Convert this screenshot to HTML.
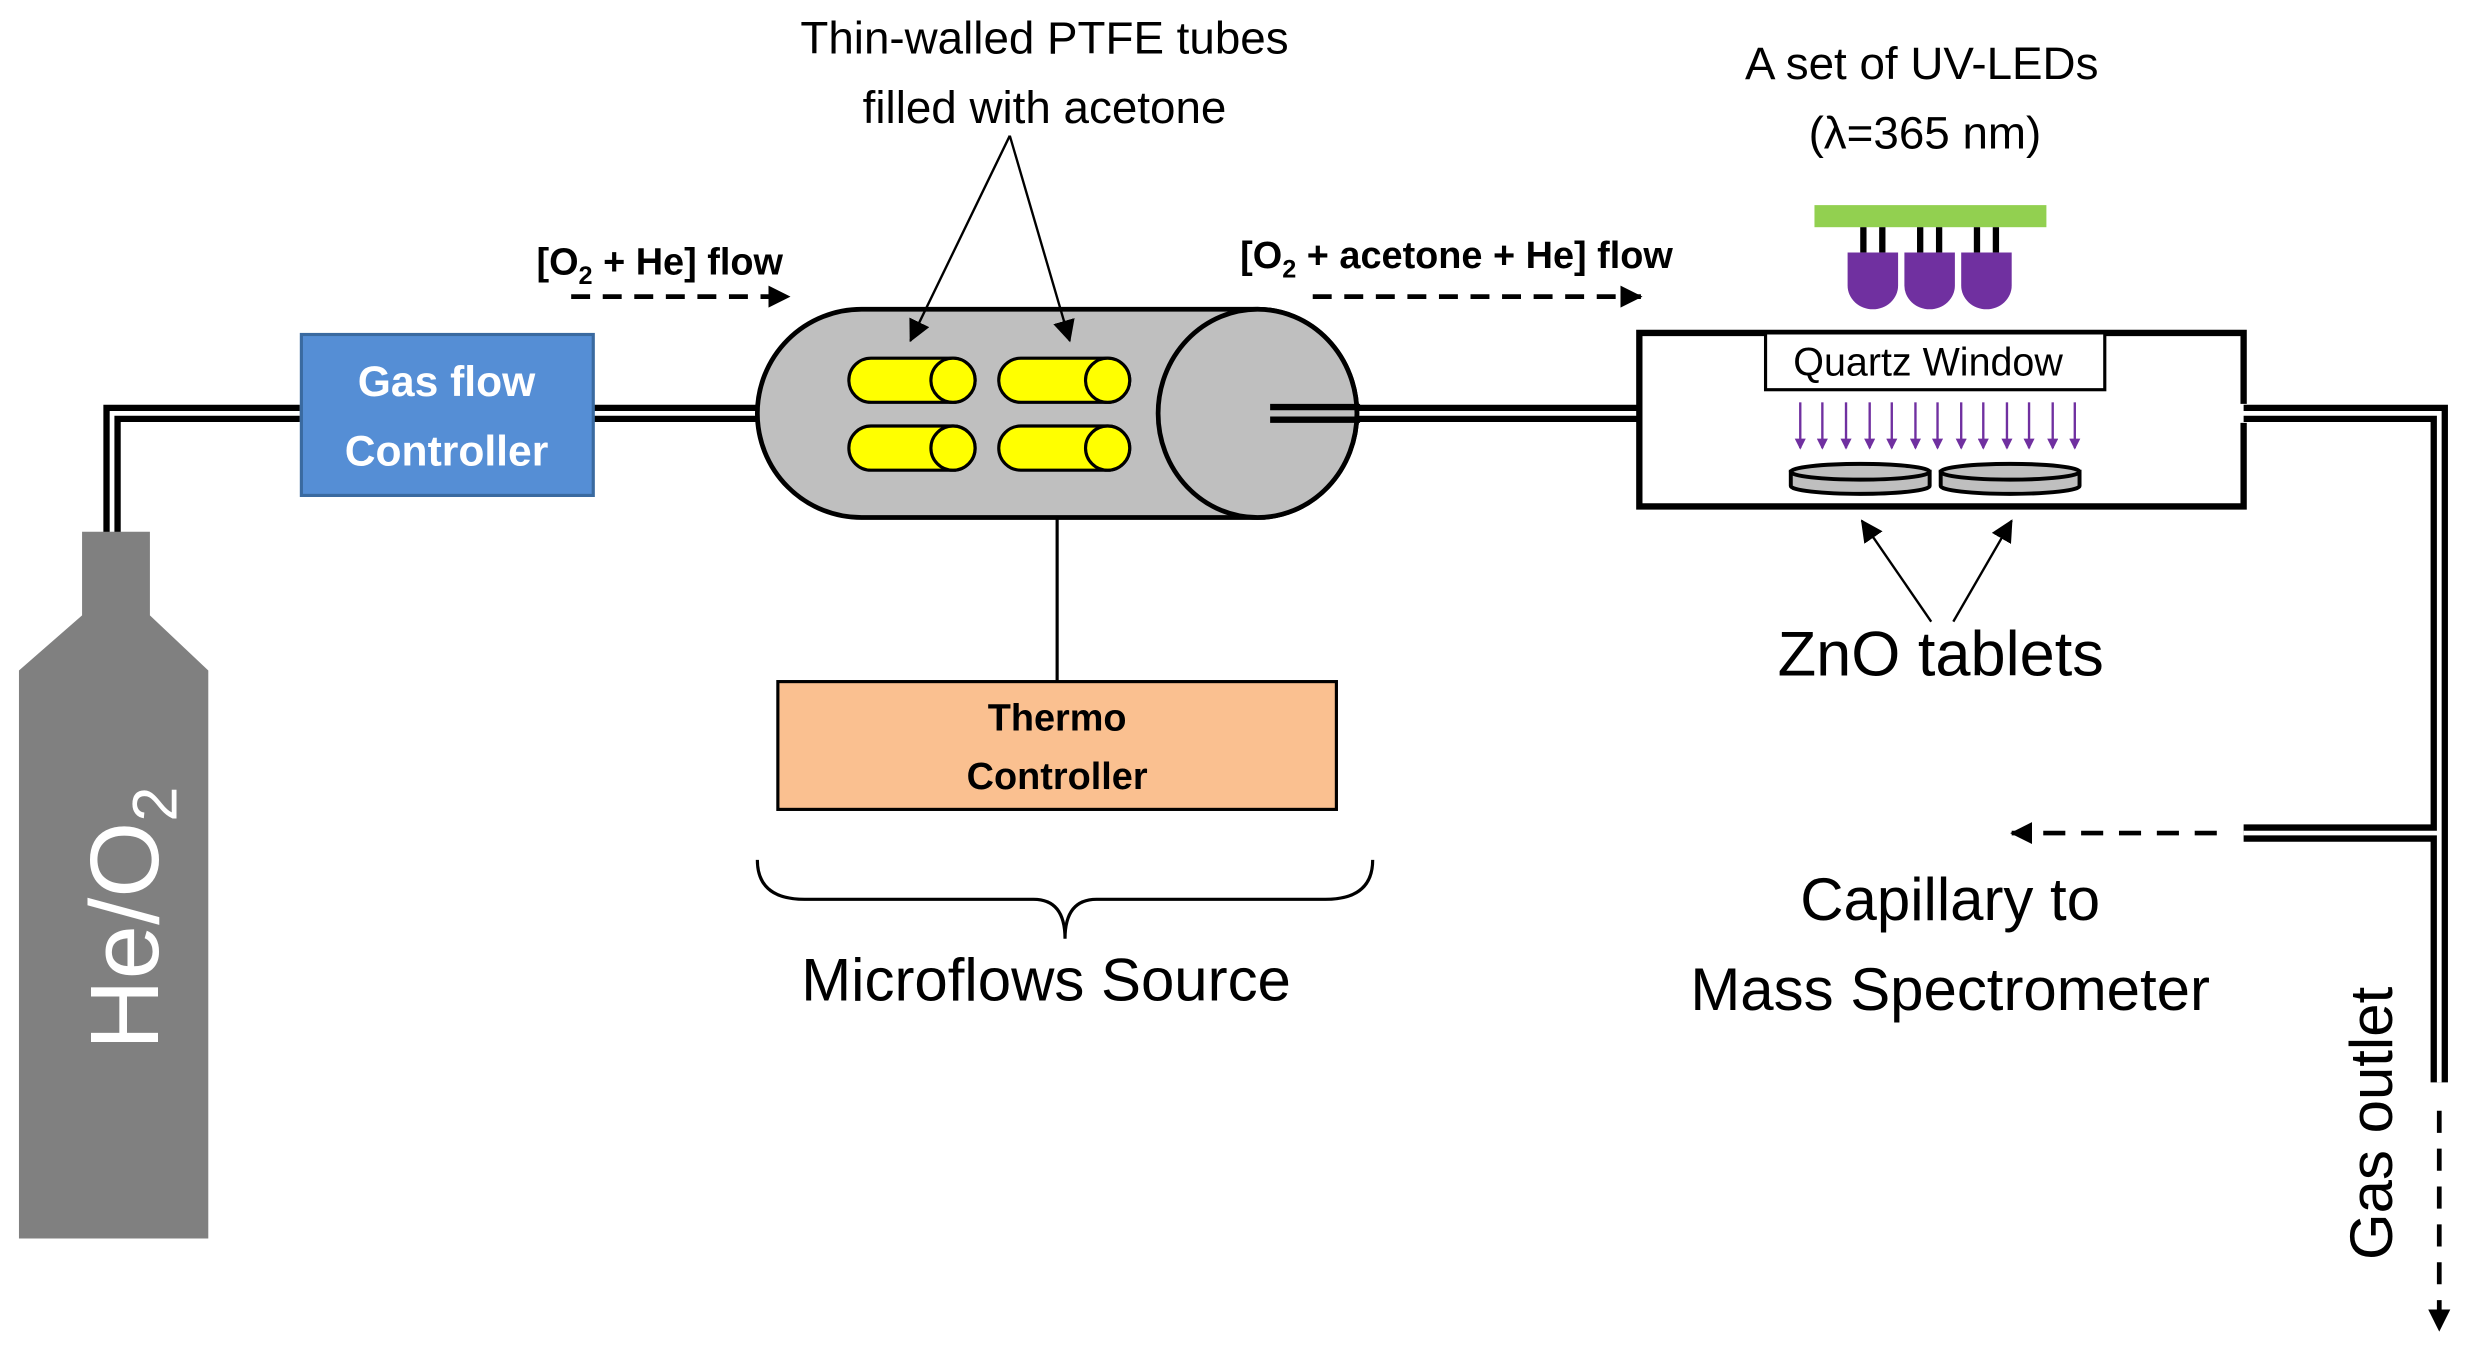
<!DOCTYPE html>
<html><head><meta charset="utf-8"><style>
html,body{margin:0;padding:0;background:#fff;}
svg{display:block;}
text{font-family:"Liberation Sans",sans-serif;}
</style></head><body>
<svg width="2474" height="1349" viewBox="0 0 1568 855" xmlns="http://www.w3.org/2000/svg">
<defs>
<marker id="ah" markerWidth="8" markerHeight="8" refX="7" refY="4" orient="auto" markerUnits="userSpaceOnUse"><path d="M0,0 L8,4 L0,8 z" fill="#000"/></marker>
<marker id="ahb" markerWidth="14" markerHeight="14" refX="13" refY="7" orient="auto" markerUnits="userSpaceOnUse"><path d="M0,0 L14,7 L0,14 z" fill="#000"/></marker>
<marker id="ahp" markerWidth="7" markerHeight="7" refX="6" refY="3.5" orient="auto" markerUnits="userSpaceOnUse"><path d="M0,0 L7,3.5 L0,7 z" fill="#7030a0"/></marker>
</defs>
<rect width="1568" height="855" fill="#fff"/>
<g fill="none" stroke-linejoin="miter">
<path d="M71,340 V262 H190" stroke="#000" stroke-width="11"/>
<path d="M71,340 V262 H190" stroke="#fff" stroke-width="3"/>
<path d="M376,262 H482" stroke="#000" stroke-width="11"/>
<path d="M376,262 H482" stroke="#fff" stroke-width="3"/>
<path d="M805,262 H1040" stroke="#000" stroke-width="11"/>
<path d="M805,262 H1040" stroke="#fff" stroke-width="3"/>
<path d="M1420,262 H1546 V686" stroke="#000" stroke-width="11"/>
<path d="M1422,528 H1546" stroke="#000" stroke-width="11"/>
<path d="M1420,262 H1546 V686" stroke="#fff" stroke-width="3"/>
<path d="M1422,528 H1546" stroke="#fff" stroke-width="3"/>
</g>
<path d="M52,337 H95 V390 L132,425 V785 H12 V425 L52,390 Z" fill="#808080"/>
<text transform="translate(100,582) rotate(-90)" text-anchor="middle" font-size="62" fill="#fff">He/O<tspan font-size="40" dy="12">2</tspan></text>
<rect x="191" y="212" width="185" height="102" fill="#558ed5" stroke="#3a6aa0" stroke-width="2"/>
<text x="283" y="251" text-anchor="middle" font-size="27" font-weight="bold" fill="#fff">Gas flow</text>
<text x="283" y="295" text-anchor="middle" font-size="27" font-weight="bold" fill="#fff">Controller</text>
<path d="M546,196 H797 A63,66 0 0 1 797,328 H546 A66,66 0 0 1 546,196 Z" fill="#bfbfbf" stroke="#000" stroke-width="3"/>
<ellipse cx="797" cy="262" rx="63" ry="66" fill="#bfbfbf" stroke="#000" stroke-width="3"/>
<path d="M805,258 H862 M805,266 H862" stroke="#000" stroke-width="4"/>
<g fill="#ffff00" stroke="#000" stroke-width="2">
<rect x="538" y="227" width="80" height="28" rx="14"/><circle cx="604" cy="241" r="14"/>
<rect x="633" y="227" width="83" height="28" rx="14"/><circle cx="702" cy="241" r="14"/>
<rect x="538" y="270" width="80" height="28" rx="14"/><circle cx="604" cy="284" r="14"/>
<rect x="633" y="270" width="83" height="28" rx="14"/><circle cx="702" cy="284" r="14"/>
</g>
<text x="662" y="34" text-anchor="middle" font-size="29">Thin-walled PTFE tubes</text>
<text x="662" y="78" text-anchor="middle" font-size="29">filled with acetone</text>
<line x1="640" y1="86" x2="577" y2="216" stroke="#000" stroke-width="1.5" marker-end="url(#ahb)"/>
<line x1="640" y1="86" x2="678" y2="216" stroke="#000" stroke-width="1.5" marker-end="url(#ahb)"/>
<line x1="670" y1="328" x2="670" y2="432" stroke="#000" stroke-width="2"/>
<rect x="493" y="432" width="354" height="81" fill="#fac090" stroke="#000" stroke-width="2"/>
<text x="670" y="463" text-anchor="middle" font-size="24" font-weight="bold">Thermo</text>
<text x="670" y="500" text-anchor="middle" font-size="24" font-weight="bold">Controller</text>
<path d="M480,545 Q480,570 510,570 H655 Q675,570 675,595 Q675,570 695,570 H840 Q870,570 870,545" fill="none" stroke="#000" stroke-width="2"/>
<text x="663" y="634" text-anchor="middle" font-size="38">Microflows Source</text>
<text x="340" y="174" font-size="24" font-weight="bold">[O<tspan font-size="16" dy="6">2</tspan><tspan dy="-6"> + He] flow</tspan></text>
<line x1="362" y1="188" x2="500" y2="188" stroke="#000" stroke-width="3" stroke-dasharray="12,8" marker-end="url(#ahb)"/>
<text x="786" y="170" font-size="24" font-weight="bold">[O<tspan font-size="16" dy="6">2</tspan><tspan dy="-6"> + acetone + He] flow</tspan></text>
<line x1="832" y1="188" x2="1040" y2="188" stroke="#000" stroke-width="3" stroke-dasharray="12,8" marker-end="url(#ahb)"/>
<path d="M1422,256 V211 H1039 V321 H1422 V268" fill="#fff" stroke="#000" stroke-width="4"/>
<rect x="1119" y="211" width="215" height="36" fill="#fff" stroke="#000" stroke-width="2"/>
<text x="1222" y="238" text-anchor="middle" font-size="25">Quartz Window</text>
<rect x="1150" y="130" width="147" height="14" fill="#92d050"/>
<g stroke="#000" stroke-width="4">
<line x1="1181" y1="144" x2="1181" y2="160"/><line x1="1193" y1="144" x2="1193" y2="160"/>
<line x1="1217" y1="144" x2="1217" y2="160"/><line x1="1229" y1="144" x2="1229" y2="160"/>
<line x1="1253" y1="144" x2="1253" y2="160"/><line x1="1265" y1="144" x2="1265" y2="160"/>
</g>
<g fill="#7030a0">
<path d="M1171,160 H1203 V181 A16,15 0 0 1 1171,181 Z"/>
<path d="M1207,160 H1239 V181 A16,15 0 0 1 1207,181 Z"/>
<path d="M1243,160 H1275 V181 A16,15 0 0 1 1243,181 Z"/>
</g>
<g stroke="#7030a0" stroke-width="1.5">
<line x1="1141" y1="255" x2="1141" y2="284" marker-end="url(#ahp)"/>
<line x1="1155" y1="255" x2="1155" y2="284" marker-end="url(#ahp)"/>
<line x1="1170" y1="255" x2="1170" y2="284" marker-end="url(#ahp)"/>
<line x1="1185" y1="255" x2="1185" y2="284" marker-end="url(#ahp)"/>
<line x1="1199" y1="255" x2="1199" y2="284" marker-end="url(#ahp)"/>
<line x1="1214" y1="255" x2="1214" y2="284" marker-end="url(#ahp)"/>
<line x1="1228" y1="255" x2="1228" y2="284" marker-end="url(#ahp)"/>
<line x1="1243" y1="255" x2="1243" y2="284" marker-end="url(#ahp)"/>
<line x1="1257" y1="255" x2="1257" y2="284" marker-end="url(#ahp)"/>
<line x1="1272" y1="255" x2="1272" y2="284" marker-end="url(#ahp)"/>
<line x1="1286" y1="255" x2="1286" y2="284" marker-end="url(#ahp)"/>
<line x1="1301" y1="255" x2="1301" y2="284" marker-end="url(#ahp)"/>
<line x1="1315" y1="255" x2="1315" y2="284" marker-end="url(#ahp)"/>
</g>
<g fill="#bfbfbf" stroke="#000" stroke-width="2.5">
<path d="M1135,299 V308 A44,5 0 0 0 1223,308 V299 Z"/><ellipse cx="1179" cy="299" rx="44" ry="5"/>
<path d="M1230,299 V308 A44,5 0 0 0 1318,308 V299 Z"/><ellipse cx="1274" cy="299" rx="44" ry="5"/>
</g>
<text x="1218" y="50" text-anchor="middle" font-size="29">A set of UV-LEDs</text>
<text x="1220" y="94" text-anchor="middle" font-size="29">(λ=365 nm)</text>
<line x1="1224" y1="394" x2="1180" y2="330" stroke="#000" stroke-width="1.5" marker-end="url(#ahb)"/>
<line x1="1238" y1="394" x2="1275" y2="330" stroke="#000" stroke-width="1.5" marker-end="url(#ahb)"/>
<text x="1230" y="428" text-anchor="middle" font-size="40">ZnO tablets</text>
<line x1="1405" y1="528" x2="1275" y2="528" stroke="#000" stroke-width="3" stroke-dasharray="14,10" marker-end="url(#ahb)"/>
<text x="1236" y="583" text-anchor="middle" font-size="38">Capillary to</text>
<text x="1236" y="640" text-anchor="middle" font-size="38">Mass Spectrometer</text>
<line x1="1546" y1="704" x2="1546" y2="843" stroke="#000" stroke-width="3" stroke-dasharray="14,10" marker-end="url(#ahb)"/>
<text transform="translate(1516,712) rotate(-90)" text-anchor="middle" font-size="38">Gas outlet</text>
</svg>
</body></html>
